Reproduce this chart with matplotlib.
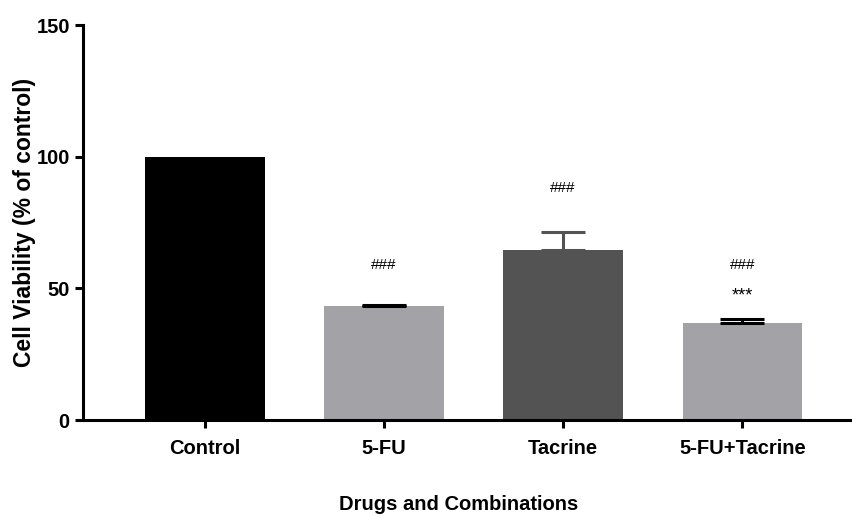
import numpy as np
import matplotlib
matplotlib.use("Agg")
import matplotlib.pyplot as plt

plt.rcParams['font.family'] = ['Liberation Sans', 'DejaVu Sans']

# data
groups = ['Control', '5-FU', 'Tacrine', '5-FU+Tacrine']
viability = [100, 43.3, 64.6, 37.0]
sem = [0, 0.4, 7.0, 1.3]
colors = ['#000000', '#a3a2a7', '#535353', '#a3a2a7']
err_colors = ['#000000', '#000000', '#535353', '#000000']
# significance marks: (group index, text, y position)
marks = [(1, '###', 59), (2, '###', 88.2), (3, '###', 59), (3, '***', 47.0)]

fig = plt.figure(figsize=(8.52, 5.16), dpi=100)
ax = fig.add_axes([0.0974, 0.186, 0.90, 0.765])

x = np.arange(len(groups))
ax.bar(x, viability, width=0.667, color=colors, zorder=2)

for i in range(len(groups)):
    if sem[i] > 0:
        ax.errorbar(x[i], viability[i], yerr=[[0], [sem[i]]], fmt='none',
                    ecolor=err_colors[i], elinewidth=2.2, capsize=15.5,
                    capthick=2.2, zorder=3)

for i, txt, yy in marks:
    ax.text(x[i], yy, txt, ha='center', va='center',
            fontsize=11 if txt == '###' else 13)

ax.set_ylim(0, 150)
ax.set_xlim(-0.68, 3.6)
ax.set_yticks([0, 50, 100, 150])
ax.set_xticks(x)
ax.set_xticklabels(groups)
ax.spines['top'].set_visible(False)
ax.spines['right'].set_visible(False)
ax.spines['left'].set_linewidth(2.2)
ax.spines['bottom'].set_linewidth(2.2)
ax.tick_params(axis='both', width=2.2, length=6, labelsize=14.5)
ax.tick_params(axis='x', pad=8)
for lab in ax.get_xticklabels() + ax.get_yticklabels():
    lab.set_fontweight('bold')

ax.set_ylabel('Cell Viability (% of control)', fontsize=16.5,
              fontweight='bold', labelpad=0)
ax.set_xlabel('Drugs and Combinations', fontsize=14.5, fontweight='bold')
ax.xaxis.set_label_coords(0.49, -0.19)

fig.savefig('out.png', dpi=100)
